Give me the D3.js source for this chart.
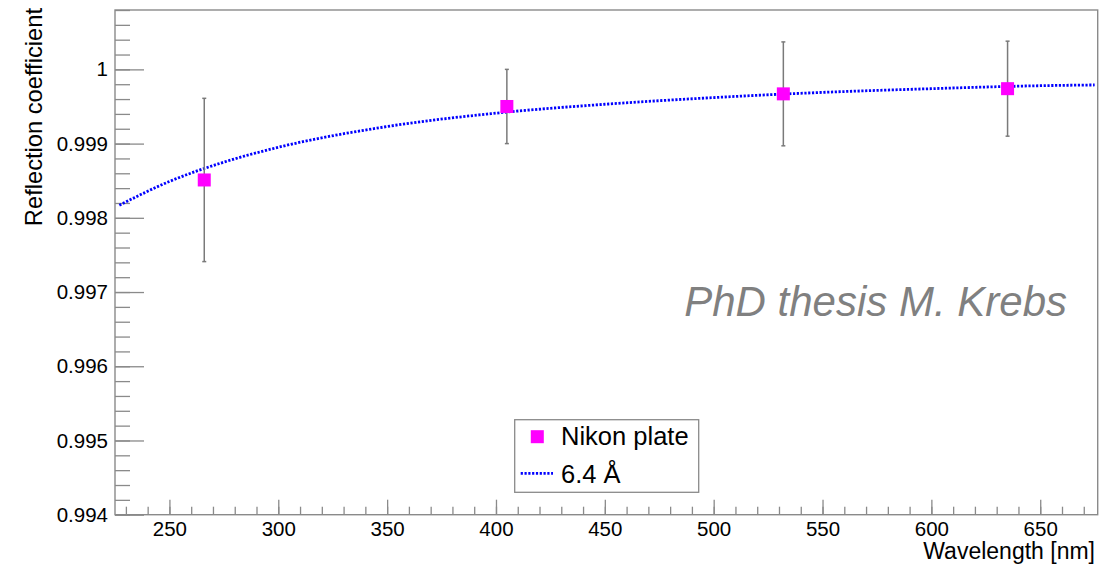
<!DOCTYPE html>
<html>
<head>
<meta charset="utf-8">
<script src="https://cdn.jsdelivr.net/npm/d3@7"></script>
<style>
  body { margin: 0; background: #fff; }
  svg { display: block; font-family: "Liberation Sans", Arial, Helvetica, sans-serif; }
</style>
</head>
<body>
<div id="chart"></div>
<script>

var width = 1101,
  height = 568;

// measured points
var wavelength = [266, 405, 532, 635];
var reflection = [0.99851, 0.99950, 0.99967, 0.99974];
var reflErr = [0.0011, 0.0005, 0.0007, 0.00064];

// fit curve
var fitWavelength = [227, 250, 275, 300, 350, 400, 450, 500, 550, 600, 650, 675];
var fitReflection = [0.99817, 0.99849, 0.99875, 0.99895, 0.99923, 0.99941, 0.99953, 0.99962, 0.99969, 0.99974, 0.99978, 0.99979];

var xMajor = [250, 300, 350, 400, 450, 500, 550, 600, 650];
var xMinor = d3.range(230, 680, 10);
var yMajor = [0.994, 0.995, 0.996, 0.997, 0.998, 0.999, 1.000];
var yMajorLabels = ["0.994", "0.995", "0.996", "0.997", "0.998", "0.999", "1"];
var yMinor = d3.range(0, 35).map(function (i) { return 0.994 + i * 0.0002; });

var legendLabels = ["Nikon plate", "6.4 \u00c5"];

var frame = { left: 115, right: 1097.7, top: 10, bottom: 514.7 };
var axisColor = "#8a8a8a";

var svg = d3.select("#chart")
  .append("svg")
  .attr("width", width)
  .attr("height", height);

var x = d3.scaleLinear()
  .domain([225, 676.4])
  .range([frame.left, frame.right]);

var y = d3.scaleLinear()
  .domain([0.994, 1.0008])
  .range([frame.bottom, frame.top]);

// frame
svg.append("rect")
  .attr("x", frame.left)
  .attr("y", frame.top)
  .attr("width", frame.right - frame.left)
  .attr("height", frame.bottom - frame.top)
  .attr("fill", "none")
  .attr("stroke", axisColor)
  .attr("stroke-width", 1.4);

// y axis, ticks point inside
var yAxisMinor = svg.append("g")
  .attr("transform", "translate(" + frame.left + ",0)")
  .call(d3.axisLeft(y).tickValues(yMinor).tickSize(-15).tickFormat(""));

var yAxis = svg.append("g")
  .attr("transform", "translate(" + frame.left + ",0)")
  .call(d3.axisLeft(y)
    .tickValues(yMajor)
    .tickSize(-29)
    .tickPadding(7)
    .tickFormat(function (d, i) { return yMajorLabels[i]; }));

// x axis
var xAxisMinor = svg.append("g")
  .attr("transform", "translate(0," + frame.bottom + ")")
  .call(d3.axisBottom(x).tickValues(xMinor).tickSize(-8).tickFormat(""));

var xAxis = svg.append("g")
  .attr("transform", "translate(0," + frame.bottom + ")")
  .call(d3.axisBottom(x).tickValues(xMajor).tickSize(-15).tickPadding(7).tickFormat(d3.format("d")));

[yAxisMinor, yAxis, xAxisMinor, xAxis].forEach(function (g) {
  g.select(".domain").remove();
  g.selectAll(".tick line").attr("stroke", axisColor).attr("stroke-width", 1.3);
  g.selectAll(".tick text")
    .attr("fill", "#000")
    .style("font-size", "20.5px")
    .style("font-family", "'Liberation Sans', Arial, sans-serif");
});

// axis titles
svg.append("text")
  .attr("transform", "translate(42," + 8 + ") rotate(-90)")
  .attr("text-anchor", "end")
  .style("font-size", "23.7px")
  .text("Reflection coefficient");

svg.append("text")
  .attr("x", 1095)
  .attr("y", 559)
  .attr("text-anchor", "end")
  .style("font-size", "23px")
  .text("Wavelength [nm]");

// watermark
svg.append("text")
  .attr("x", 1067)
  .attr("y", 316)
  .attr("text-anchor", "end")
  .attr("fill", "#808080")
  .style("font-size", "42px")
  .style("font-style", "italic")
  .text("PhD thesis M. Krebs");

// fit line
var line = d3.line()
  .x(function (d) { return x(d[0]); })
  .y(function (d) { return y(d[1]); })
  .curve(d3.curveMonotoneX);

svg.append("path")
  .datum(d3.zip(fitWavelength, fitReflection))
  .attr("d", line)
  .attr("fill", "none")
  .attr("stroke", "#0000ff")
  .attr("stroke-width", 2.8)
  .attr("stroke-dasharray", "2.2,1.6");

// error bars
var points = d3.zip(wavelength, reflection, reflErr);

var bars = svg.append("g").selectAll("g")
  .data(points)
  .enter().append("g")
  .attr("stroke", "#7a7a7a")
  .attr("stroke-width", 1.5);

bars.append("line")
  .attr("x1", function (d) { return x(d[0]); })
  .attr("x2", function (d) { return x(d[0]); })
  .attr("y1", function (d) { return y(d[1] - d[2]); })
  .attr("y2", function (d) { return y(d[1] + d[2]); });

bars.selectAll(".cap")
  .data(function (d) { return [[d[0], d[1] - d[2]], [d[0], d[1] + d[2]]]; })
  .enter().append("line")
  .attr("class", "cap")
  .attr("x1", function (d) { return x(d[0]) - 2; })
  .attr("x2", function (d) { return x(d[0]) + 2; })
  .attr("y1", function (d) { return y(d[1]); })
  .attr("y2", function (d) { return y(d[1]); });

// markers
var markerSize = 13;
svg.append("g").selectAll("rect")
  .data(points)
  .enter().append("rect")
  .attr("x", function (d) { return x(d[0]) - markerSize / 2; })
  .attr("y", function (d) { return y(d[1]) - markerSize / 2; })
  .attr("width", markerSize)
  .attr("height", markerSize)
  .attr("fill", "#ff00ff");

// legend
var legend = svg.append("g");

legend.append("rect")
  .attr("x", 514.7)
  .attr("y", 419.7)
  .attr("width", 184)
  .attr("height", 72.6)
  .attr("fill", "#fff")
  .attr("stroke", axisColor)
  .attr("stroke-width", 1.3);

legend.append("rect")
  .attr("x", 537.3 - markerSize / 2)
  .attr("y", 436.7 - markerSize / 2)
  .attr("width", markerSize)
  .attr("height", markerSize)
  .attr("fill", "#ff00ff");

legend.append("line")
  .attr("x1", 520.7)
  .attr("x2", 553)
  .attr("y1", 473.3)
  .attr("y2", 473.3)
  .attr("stroke", "#0000ff")
  .attr("stroke-width", 2.8)
  .attr("stroke-dasharray", "2.2,1.6");

legend.selectAll("text")
  .data(legendLabels)
  .enter().append("text")
  .attr("x", 561)
  .attr("y", function (d, i) { return i === 0 ? 445 : 482.7; })
  .style("font-size", "25.5px")
  .text(function (d) { return d; });

</script>
</body>
</html>
